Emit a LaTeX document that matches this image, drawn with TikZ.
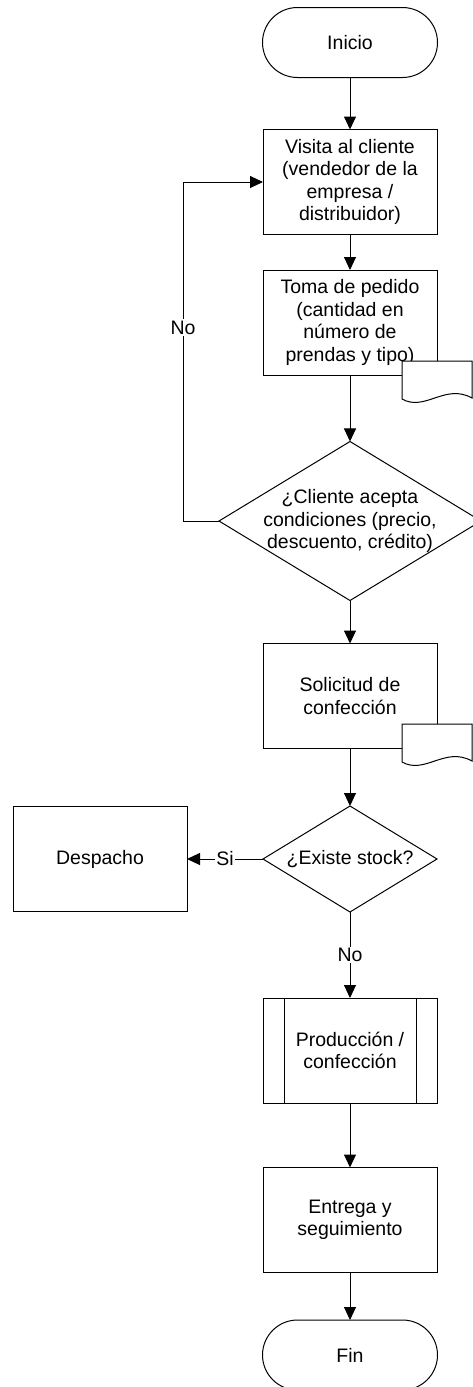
\documentclass[tikz,border=0pt]{standalone}
\usepackage{fontspec}
\setmainfont{Liberation Sans}
\usetikzlibrary{arrows.meta,shapes.geometric}
\begin{document}
\begin{tikzpicture}[x=1pt,y=-1pt,
  every node/.style={font=\fontsize{19.5}{22.5}\selectfont, align=center, inner sep=0pt, outer sep=0pt},
  proc/.style={draw, line width=1pt, fill=white, minimum width=174pt, minimum height=105pt},
  term/.style={draw, line width=1pt, fill=white, rounded corners=35pt, minimum width=175pt, minimum height=70pt},
  dia/.style={draw, shape=diamond, line width=1pt, fill=white},
  conn/.style={line width=1pt, -{Triangle[length=13pt,width=12pt]}},
  lbl/.style={fill=white, inner sep=1.5pt},
  docshape/.style={draw, line width=1pt, fill=white}
]
\useasboundingbox (0,0) rectangle (473,1387);
\clip (0,0) rectangle (473,1387);

\node[term] (ini) at (350,42.5) {Inicio};
\node[proc] (vis) at (350,182) {Visita al cliente\\(vendedor de la\\empresa /\\distribuidor)};
\node[proc] (tom) at (350,322.5) {Toma de pedido\\(cantidad en\\número de\\prendas y tipo)};
\node[dia, minimum width=262pt, minimum height=159pt] (d1) at (350,521) {};
\node (d1t) at (d1.center) {¿Cliente acepta\\condiciones (precio,\\descuento, crédito)};
\node[proc] (sol) at (350,696) {Solicitud de\\confección};
\node[dia, minimum width=174pt, minimum height=106pt] (d2) at (350,859) {};
\node (d2t) at (d2.center) {¿Existe stock?};
\node[proc] (des) at (100,859) {Despacho};
\node[proc] (pro) at (350,1050.5) {Producción /\\confección};
\draw[line width=1pt] ([xshift=21pt]pro.north west) -- ([xshift=21pt]pro.south west);
\draw[line width=1pt] ([xshift=-21pt]pro.north east) -- ([xshift=-21pt]pro.south east);
\node[proc] (ent) at (350,1220) {Entrega y\\seguimiento};
\node[term] (fin) at (350,1355) {Fin};

% document symbols
\draw[docshape] (402,361) -- (472,361) -- (472,398) .. controls (445,383) and (425,412) .. (402,399) -- cycle;
\draw[docshape] (402,724) -- (472,724) -- (472,761) .. controls (445,746) and (425,775) .. (402,762) -- cycle;

% connectors
\coordinate (lp) at (183,521);
\draw[conn] (ini) -- (vis);
\draw[conn] (vis) -- (tom);
\draw[conn] (tom) -- (d1);
\draw[conn] (d1.west) -- (lp) |- node[lbl, pos=0.285] {No} (vis.west);
\draw[conn] (d1) -- (sol);
\draw[conn] (sol) -- (d2);
\draw[conn] (d2.west) -- node[lbl] {Si} (des.east);
\draw[conn] (d2) -- node[lbl] {No} (pro);
\draw[conn] (pro) -- (ent);
\draw[conn] (ent) -- (fin);
\end{tikzpicture}
\end{document}
